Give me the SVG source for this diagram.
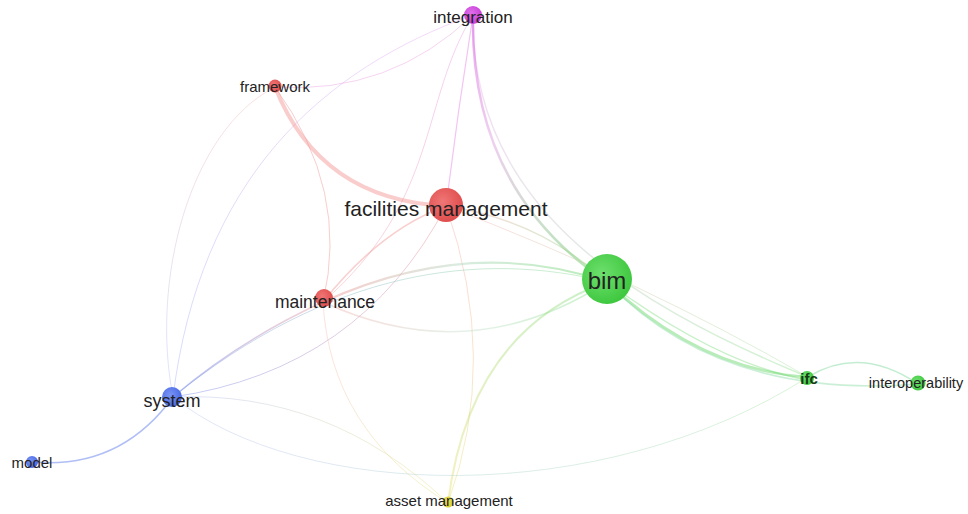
<svg xmlns="http://www.w3.org/2000/svg" width="968" height="514" viewBox="0 0 968 514">
<style>
.e{fill:none;stroke-linecap:round}
.lbl{font-family:"Liberation Sans",Arial,sans-serif;fill:#222;text-anchor:middle}
</style>
<defs>
<linearGradient id="g_int_bim" gradientUnits="userSpaceOnUse" x1="473" y1="15" x2="607" y2="282"><stop offset="0" stop-color="#d24ee0"/><stop offset="0.4" stop-color="#e0a0e0"/><stop offset="1" stop-color="#5cd65c"/></linearGradient>
<linearGradient id="g_int_ifc" gradientUnits="userSpaceOnUse" x1="473" y1="15" x2="808" y2="377"><stop offset="0" stop-color="#e8a0ee"/><stop offset="1" stop-color="#7ade7a"/></linearGradient>
<linearGradient id="g_int_sys" gradientUnits="userSpaceOnUse" x1="473" y1="15" x2="173" y2="397"><stop offset="0" stop-color="#e8a0ee"/><stop offset="1" stop-color="#9aa8f2"/></linearGradient>
<linearGradient id="g_int_red" gradientUnits="userSpaceOnUse" x1="473" y1="15" x2="323" y2="302"><stop offset="0" stop-color="#e48ae8"/><stop offset="1" stop-color="#f09a9a"/></linearGradient>
<linearGradient id="g_fw_sys" gradientUnits="userSpaceOnUse" x1="275" y1="87" x2="173" y2="397"><stop offset="0" stop-color="#f4a6a6"/><stop offset="1" stop-color="#a4b0f2"/></linearGradient>
<linearGradient id="g_fm_sys" gradientUnits="userSpaceOnUse" x1="446" y1="206" x2="173" y2="397"><stop offset="0" stop-color="#f29090"/><stop offset="1" stop-color="#7a8ef0"/></linearGradient>
<linearGradient id="g_fm_bim" gradientUnits="userSpaceOnUse" x1="446" y1="206" x2="607" y2="282"><stop offset="0" stop-color="#f4a0a0"/><stop offset="1" stop-color="#80de80"/></linearGradient>
<linearGradient id="g_fm_ast" gradientUnits="userSpaceOnUse" x1="446" y1="206" x2="448" y2="503"><stop offset="0" stop-color="#f4a0a0"/><stop offset="1" stop-color="#e4dc60"/></linearGradient>
<linearGradient id="g_fm_ifc" gradientUnits="userSpaceOnUse" x1="446" y1="206" x2="808" y2="377"><stop offset="0" stop-color="#f4a0a0"/><stop offset="1" stop-color="#90e090"/></linearGradient>
<linearGradient id="g_bim_mt" gradientUnits="userSpaceOnUse" x1="607" y1="282" x2="323" y2="302"><stop offset="0" stop-color="#70da70"/><stop offset="0.5" stop-color="#b4d8c0"/><stop offset="1" stop-color="#f09a9a"/></linearGradient>
<linearGradient id="g_bim_sys" gradientUnits="userSpaceOnUse" x1="607" y1="282" x2="173" y2="397"><stop offset="0" stop-color="#80dc80"/><stop offset="1" stop-color="#8094f0"/></linearGradient>
<linearGradient id="g_bim_ast" gradientUnits="userSpaceOnUse" x1="607" y1="282" x2="448" y2="503"><stop offset="0" stop-color="#7ada7a"/><stop offset="1" stop-color="#e4dc60"/></linearGradient>
<linearGradient id="g_mt_sys" gradientUnits="userSpaceOnUse" x1="323" y1="302" x2="173" y2="397"><stop offset="0" stop-color="#f09a9a"/><stop offset="1" stop-color="#5a78ee"/></linearGradient>
<linearGradient id="g_mt_ast" gradientUnits="userSpaceOnUse" x1="323" y1="302" x2="448" y2="503"><stop offset="0" stop-color="#f4a8a8"/><stop offset="1" stop-color="#e4dc60"/></linearGradient>
<linearGradient id="g_sys_ast" gradientUnits="userSpaceOnUse" x1="173" y1="397" x2="448" y2="503"><stop offset="0" stop-color="#a0acf2"/><stop offset="1" stop-color="#e4dc60"/></linearGradient>
<linearGradient id="g_sys_ifc" gradientUnits="userSpaceOnUse" x1="173" y1="397" x2="808" y2="377"><stop offset="0" stop-color="#a8b4f2"/><stop offset="1" stop-color="#90e090"/></linearGradient>
<radialGradient id="n_red" cx="0.4" cy="0.4" r="0.6"><stop offset="0" stop-color="#f07676"/><stop offset="1" stop-color="#e04e4e"/></radialGradient>
<radialGradient id="n_green" cx="0.4" cy="0.4" r="0.6"><stop offset="0" stop-color="#6ee06e"/><stop offset="1" stop-color="#40c840"/></radialGradient>
<radialGradient id="n_blue" cx="0.4" cy="0.4" r="0.6"><stop offset="0" stop-color="#7a94f4"/><stop offset="1" stop-color="#4a6ae6"/></radialGradient>
<radialGradient id="n_mag" cx="0.4" cy="0.4" r="0.6"><stop offset="0" stop-color="#e070ea"/><stop offset="1" stop-color="#c840d8"/></radialGradient>
<radialGradient id="n_yel" cx="0.4" cy="0.4" r="0.6"><stop offset="0" stop-color="#eee060"/><stop offset="1" stop-color="#d6ce30"/></radialGradient>
</defs>
<rect width="968" height="514" fill="#ffffff"/>
<g id="connectors">
<path class="e" d="M473,15 C320,70 200,180 173,397" stroke="url(#g_int_sys)" stroke-width="1" opacity="0.4"/>
<path class="e" d="M275,87 C190,130 150,280 173,397" stroke="url(#g_fw_sys)" stroke-width="1" opacity="0.35"/>
<path class="e" d="M473,15 Q390,95 275,87" stroke="#e8a0e0" stroke-width="1" opacity="0.45"/>
<path class="e" d="M473,15 C420,100 440,200 323,302" stroke="url(#g_int_red)" stroke-width="1" opacity="0.4"/>
<path class="e" d="M473,15 Q458,110 446,206" stroke="#e47ce4" stroke-width="1.2" opacity="0.45"/>
<path class="e" d="M473,15 C470,200 620,300 808,377" stroke="url(#g_int_ifc)" stroke-width="1.5" opacity="0.35"/>
<path class="e" d="M473,15 Q470,190 607,282" stroke="url(#g_int_bim)" stroke-width="2.5" opacity="0.5"/>
<path class="e" d="M275,87 Q320,200 446,206" stroke="#f07070" stroke-width="4" opacity="0.35"/>
<path class="e" d="M275,87 Q350,190 323,302" stroke="#f09090" stroke-width="1" opacity="0.45"/>
<path class="e" d="M446,206 Q540,220 607,282" stroke="url(#g_fm_bim)" stroke-width="1.5" opacity="0.4"/>
<path class="e" d="M446,206 Q380,230 323,302" stroke="#f08888" stroke-width="1.5" opacity="0.4"/>
<path class="e" d="M446,206 Q360,370 173,397" stroke="url(#g_fm_sys)" stroke-width="1" opacity="0.45"/>
<path class="e" d="M446,206 Q500,360 448,503" stroke="url(#g_fm_ast)" stroke-width="1" opacity="0.4"/>
<path class="e" d="M446,206 Q640,280 808,377" stroke="url(#g_fm_ifc)" stroke-width="1" opacity="0.35"/>
<path class="e" d="M607,282 Q470,235 323,302" stroke="url(#g_bim_mt)" stroke-width="2" opacity="0.5"/>
<path class="e" d="M323,302 Q470,370 607,282" stroke="url(#g_bim_mt)" stroke-width="1.5" opacity="0.35"/>
<path class="e" d="M607,282 C480,250 330,270 173,397" stroke="url(#g_bim_sys)" stroke-width="1" opacity="0.4"/>
<path class="e" d="M607,282 Q470,330 448,503" stroke="url(#g_bim_ast)" stroke-width="2" opacity="0.4"/>
<path class="e" d="M607,282 Q700,370 808,377" stroke="#62d462" stroke-width="2.5" opacity="0.45"/>
<path class="e" d="M607,282 Q720,365 808,380" stroke="#62d462" stroke-width="1.5" opacity="0.35"/>
<path class="e" d="M607,282 Q720,400 918,384" stroke="#7ad898" stroke-width="1.5" opacity="0.4"/>
<path class="e" d="M808,377 Q860,345 918,384" stroke="#7ad898" stroke-width="1.5" opacity="0.45"/>
<path class="e" d="M323,302 Q240,340 173,397" stroke="url(#g_mt_sys)" stroke-width="1.5" opacity="0.45"/>
<path class="e" d="M323,302 Q330,430 448,503" stroke="url(#g_mt_ast)" stroke-width="1" opacity="0.35"/>
<path class="e" d="M173,397 Q330,390 448,503" stroke="url(#g_sys_ast)" stroke-width="1" opacity="0.35"/>
<path class="e" d="M173,397 C300,500 600,510 808,377" stroke="url(#g_sys_ifc)" stroke-width="1" opacity="0.35"/>
<path class="e" d="M173,397 Q120,470 32,462" stroke="#7088ee" stroke-width="1.5" opacity="0.55"/>
</g>
<g id="node-integration"><circle cx="473" cy="15" r="9" fill="url(#n_mag)"/><text class="lbl" x="473" y="23" font-size="17">integration</text></g>
<g id="node-framework"><circle cx="275" cy="86" r="6.5" fill="url(#n_red)"/><text class="lbl" x="275" y="92" font-size="15">framework</text></g>
<g id="node-facilities-management"><circle cx="446" cy="205" r="17" fill="url(#n_red)"/><text class="lbl" x="446" y="216" font-size="21">facilities management</text></g>
<g id="node-bim"><circle cx="607" cy="279" r="25" fill="url(#n_green)"/><text class="lbl" x="607" y="289" font-size="24">bim</text></g>
<g id="node-maintenance"><circle cx="324" cy="298" r="9" fill="url(#n_red)"/><text class="lbl" x="325" y="308" font-size="17.5">maintenance</text></g>
<g id="node-system"><circle cx="172" cy="397" r="10" fill="url(#n_blue)"/><text class="lbl" x="172" y="407" font-size="18">system</text></g>
<g id="node-model"><circle cx="32" cy="462" r="6" fill="url(#n_blue)"/><text class="lbl" x="32" y="468" font-size="15">model</text></g>
<g id="node-asset-management"><circle cx="448" cy="502" r="5.5" fill="url(#n_yel)"/><text class="lbl" x="449" y="506" font-size="15">asset management</text></g>
<g id="node-ifc"><circle cx="807" cy="378" r="7" fill="url(#n_green)"/><text class="lbl" x="809" y="384" font-size="15" font-weight="bold" style="fill:#163a16">ifc</text></g>
<g id="node-interoperability"><circle cx="918" cy="383" r="7.5" fill="url(#n_green)"/><text class="lbl" x="916" y="388" font-size="14.5">interoperability</text></g>
</svg>
